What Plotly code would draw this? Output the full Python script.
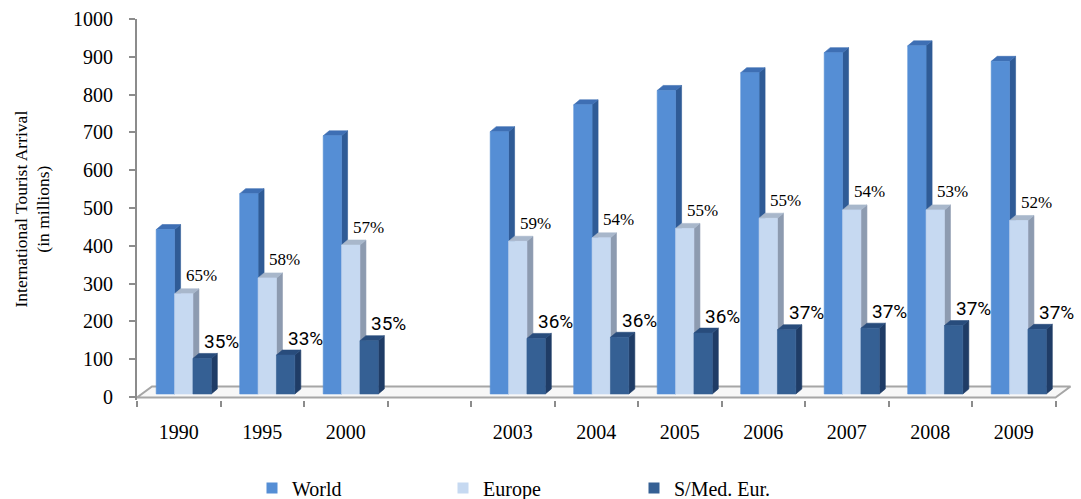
import plotly.graph_objects as go

# Category slots along the x axis (the blank slot leaves the 2000-2003 gap)
CATEGORIES = ["1990", "1995", "2000", "", "2003", "2004", "2005", "2006", "2007", "2008", "2009"]

# International tourist arrivals, in millions
WORLD = [435, 530, 683, None, 694, 765, 803, 850, 903, 921, 880]
EUROPE = [265, 307, 394, None, 404, 413, 438, 465, 487, 487, 459]
SMED = [94, 103, 141, None, 147, 150, 161, 170, 174, 181, 171]

# Shares printed above the Europe and S/Med. Eur. bars
EUROPE_SHARE = ["65%", "58%", "57%", None, "59%", "54%", "55%", "55%", "54%", "53%", "52%"]
SMED_SHARE = ["35%", "33%", "35%", None, "36%", "36%", "36%", "37%", "37%", "37%", "37%"]

SERIES_NAMES = ["World", "Europe", "S/Med. Eur."]

# ---- styling / geometry constants -------------------------------------
PX_PER_CAT = 83.5          # horizontal pixels per category slot
PX_PER_UNIT = 0.378        # vertical pixels per million
BAR_W = 0.22               # front-face width (category units)
OFFSETS = [-0.27, -0.05, 0.17]   # left edge of each series' front face
DEPTH_DX = 6 / PX_PER_CAT  # 3-D depth, horizontal
DEPTH_DY = 5 / PX_PER_UNIT # 3-D depth, vertical
BASE = 8                   # bars stand slightly back on the floor

FRONT = ["#558ED5", "#C6D9F1", "#356094"]
SIDE = ["#2F5B96", "#8D9BB0", "#1F3C66"]
TOP = ["#3E6FB4", "#A8B7CB", "#284C7C"]

AXIS_GREY = "#8C8C8C"
SERIF = "Liberation Serif"
SANS = "Roboto"

fig = go.Figure()


def add_poly(xs, ys, color):
    fig.add_trace(go.Scatter(
        x=xs, y=ys, mode="lines", fill="toself", fillcolor=color,
        line=dict(color=color, width=0.6), hoverinfo="skip", showlegend=False,
    ))


# Floor of the 3-D plot
FLOOR_Y0 = -1.3
FLOOR_DX = 15 / PX_PER_CAT
FLOOR_DY = 11 / PX_PER_UNIT
n = len(CATEGORIES)
fx = [-0.5, n - 0.5, n - 0.5 + FLOOR_DX, -0.5 + FLOOR_DX, -0.5]
fy = [FLOOR_Y0, FLOOR_Y0, FLOOR_Y0 + FLOOR_DY, FLOOR_Y0 + FLOOR_DY, FLOOR_Y0]
fig.add_trace(go.Scatter(
    x=fx, y=fy, mode="lines", fill="toself", fillcolor="#F7F7F7",
    line=dict(color="#A6A6A6", width=2), hoverinfo="skip", showlegend=False,
))

# 3-D bars: each series drawn side, top and front, in order so that
# later series hide the side faces of the earlier ones
for k, values in enumerate([WORLD, EUROPE, SMED]):
    fx_, fy_, sx_, sy_, tx_, ty_ = [], [], [], [], [], []
    for i, v in enumerate(values):
        if v is None:
            continue
        x0 = i + OFFSETS[k]
        x1 = x0 + BAR_W
        y0 = BASE
        y1 = BASE + v
        fx_ += [x0, x1, x1, x0, x0, None]
        fy_ += [y0, y0, y1, y1, y0, None]
        sx_ += [x1, x1 + DEPTH_DX, x1 + DEPTH_DX, x1, x1, None]
        sy_ += [y0, y0 + DEPTH_DY, y1 + DEPTH_DY, y1, y0, None]
        tx_ += [x0, x1, x1 + DEPTH_DX, x0 + DEPTH_DX, x0, None]
        ty_ += [y1, y1, y1 + DEPTH_DY, y1 + DEPTH_DY, y1, None]
    add_poly(sx_, sy_, SIDE[k])
    add_poly(tx_, ty_, TOP[k])
    add_poly(fx_, fy_, FRONT[k])

# Legend entries
for k, name in enumerate(SERIES_NAMES):
    fig.add_trace(go.Scatter(
        x=[None], y=[None], mode="markers", name=name,
        marker=dict(symbol="square", size=11, color=FRONT[k]),
    ))

# Share labels
annotations = []
for i, (v, s) in enumerate(zip(EUROPE, EUROPE_SHARE)):
    if v is None:
        continue
    annotations.append(dict(
        x=i + OFFSETS[1] + BAR_W + 0.10, y=BASE + v, yshift=18,
        text=s, showarrow=False, xanchor="center", yanchor="middle",
        font=dict(family=SERIF, size=17, color="black"),
    ))
for i, (v, s) in enumerate(zip(SMED, SMED_SHARE)):
    if v is None:
        continue
    annotations.append(dict(
        x=i + OFFSETS[2] + BAR_W + 0.125, y=BASE + v, yshift=17,
        text=s, showarrow=False, xanchor="center", yanchor="middle",
        font=dict(family=SANS, size=19, color="black"),
    ))

# Vertical axis title
annotations.append(dict(
    xref="paper", yref="paper", x=0, y=0.5, xshift=-105,
    text="International Tourist Arrival<br>(in millions)",
    textangle=-90, showarrow=False, xanchor="center", yanchor="middle",
    font=dict(family=SERIF, size=17.5, color="black"),
))

LEFT, RIGHT_EDGE, TOP_PX, BOTTOM_PX = 137, 1074, 19, 400
W, H = 1081, 499
x_max = -0.5 + (RIGHT_EDGE - LEFT) / PX_PER_CAT
y_min = -(BOTTOM_PX - 397) / PX_PER_UNIT

label_idx = [i for i, c in enumerate(CATEGORIES) if c]
fig.update_layout(
    width=W, height=H,
    margin=dict(l=LEFT, r=W - RIGHT_EDGE, t=TOP_PX, b=H - BOTTOM_PX, autoexpand=False),
    paper_bgcolor="white", plot_bgcolor="white",
    font=dict(family=SERIF, size=20, color="black"),
    annotations=annotations,
    showlegend=True,
    legend=dict(
        orientation="h", xref="container", x=252 / W, xanchor="left",
        yref="container", y=1 - 488 / H, yanchor="middle",
        entrywidth=146, entrywidthmode="pixels",
        font=dict(family=SERIF, size=20, color="black"),
        itemclick=False, itemdoubleclick=False,
    ),
    xaxis=dict(
        range=[-0.5, x_max], showgrid=False, zeroline=False, showline=False,
        tickmode="array", tickvals=label_idx,
        ticktext=[CATEGORIES[i] for i in label_idx],
        ticks="", ticklabelstandoff=18,
        tickfont=dict(family=SERIF, size=20, color="black"),
        minor=dict(
            tickmode="array", tickvals=[i - 0.5 for i in range(n + 1)],
            ticks="outside", ticklen=6, tickcolor=AXIS_GREY, tickwidth=2,
            showgrid=False,
        ),
        fixedrange=True,
    ),
    yaxis=dict(
        range=[y_min, 1000], showgrid=False, zeroline=False,
        showline=True, linecolor=AXIS_GREY, linewidth=2,
        tickmode="array", tickvals=list(range(0, 1001, 100)),
        ticks="outside", ticklen=6, tickcolor=AXIS_GREY, tickwidth=2,
        ticklabelstandoff=12,
        tickfont=dict(family=SERIF, size=20, color="black"),
        fixedrange=True,
    ),
)

fig.write_html("out.html")
